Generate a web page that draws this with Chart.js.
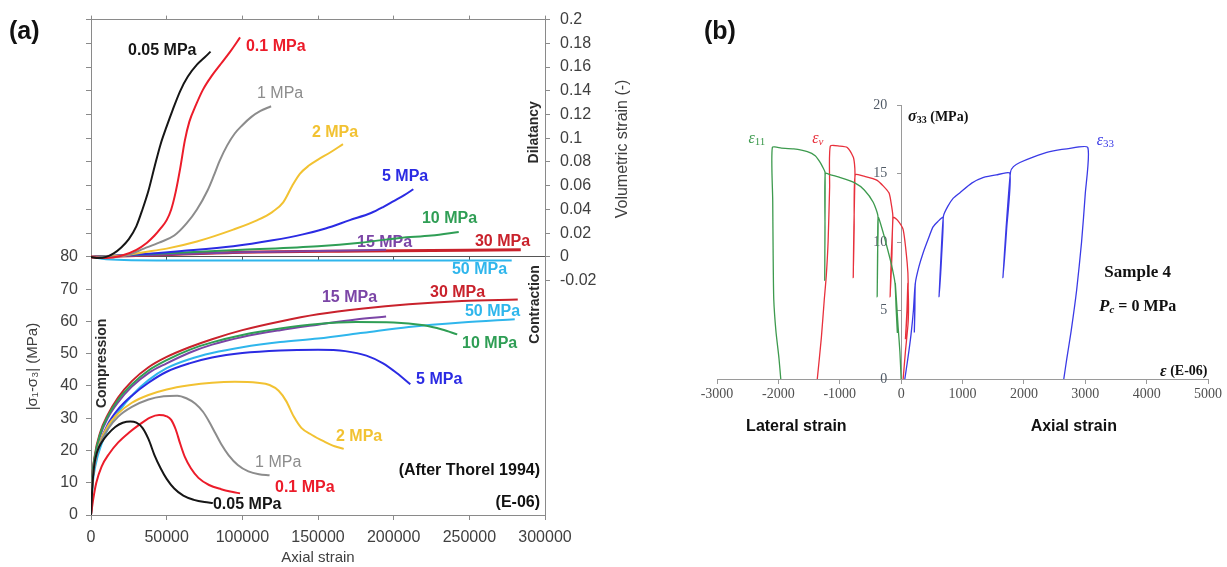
<!DOCTYPE html>
<html>
<head>
<meta charset="utf-8">
<title>Triaxial tests - Thorel 1994 / Sample 4</title>
<script src="https://cdn.jsdelivr.net/npm/chart.js@4.4.1/dist/chart.umd.min.js"></script>
<style>
  html, body { margin: 0; padding: 0; background: #fff; }
  #page { position: relative; width: 1227px; height: 567px; overflow: hidden; background: #fff; }
  #chartA { position: absolute; left: 0; top: 0; }
  #chartB { position: absolute; left: 690px; top: 0; }
</style>
</head>
<body>
<div id="page">
  <canvas id="chartA" width="690" height="567"></canvas>
  <canvas id="chartB" width="537" height="567"></canvas>
</div>
<script>
const SANS = '"Liberation Sans", Arial, sans-serif';
const SERIF = '"Liberation Serif", "Times New Roman", serif';

// =================================================================
// PANEL (a) DATA - axial strain in E-06
// =================================================================
const axialTicks = [0, 50000, 100000, 150000, 200000, 250000, 300000];
const stressTicks = [0, 10, 20, 30, 40, 50, 60, 70, 80];
const volTicks = [-0.02, 0, 0.02, 0.04, 0.06, 0.08, 0.1, 0.12, 0.14, 0.16, 0.18, 0.2];
const VOL_MIN = -0.2175, VOL_MAX = 0.2;
// left axis is stretched so that 80 MPa sits on zero volumetric strain
const STRESS_MAX = 80 * (VOL_MAX - VOL_MIN) / (0 - VOL_MIN);

const confining = ['0.05 MPa', '0.1 MPa', '1 MPa', '2 MPa', '5 MPa', '10 MPa', '15 MPa', '30 MPa', '50 MPa'];
const confColors = ['#161616', '#ec1c2a', '#8c8c8c', '#f2c232', '#2b2be3', '#2f9e55', '#7b45a6', '#c9222c', '#2fb6ec'];

// deviatoric stress |s1-s3| (MPa)
const dev005 = [[0,0],[800,8],[2000,15],[4000,19.5],[7000,22.5],[11000,25],[16000,27.3],[21000,28.6],[26000,29],[30000,28.6],[34000,27],[38000,23.5],[42000,18.5],[46000,14.5],[50000,11.2],[55000,8.2],[61000,6],[68000,4.7],[75000,4],[80500,3.7]];
const dev01 = [[0,0],[1500,5],[3500,10],[7000,15],[12000,19],[18000,22.5],[25000,25.5],[32000,28],[39000,30.2],[45000,31],[50000,30.6],[53000,29.5],[56000,26.5],[59000,22],[62000,18],[66000,14.5],[71000,11.5],[78000,9.3],[86000,8],[93000,7.2],[98500,6.7]];
const dev1 = [[0,0],[800,9],[2500,16],[6000,22],[11000,26.5],[18000,30.5],[27000,33.5],[38000,35.8],[48000,36.8],[57000,37],[63000,36.2],[69000,34.5],[74000,32],[78000,29],[82000,25.5],[86000,22],[91000,18.5],[97000,15.5],[104000,13.5],[111000,12.6],[118000,12.3]];
const dev2 = [[0,0],[800,9],[2500,16],[6000,22.5],[11000,27.5],[18000,31.5],[27000,34.8],[38000,37.2],[50000,38.9],[65000,40.2],[80000,41],[95000,41.3],[110000,41],[118000,40.3],[124000,38.5],[129000,35.3],[134000,30.5],[139000,27],[146000,24.8],[154000,22.8],[161000,21.3],[167000,20.5]];
const dev5 = [[0,0],[800,9],[2500,16],[6000,22.5],[11000,28],[18000,32.8],[27000,37],[38000,41],[50000,44.4],[65000,47],[80000,48.8],[100000,50.2],[125000,51],[150000,51.2],[168000,50.8],[182000,49.4],[193000,47],[202000,44],[211000,40.5]];
const dev10 = [[0,0],[800,11],[2500,18],[6000,25],[11000,30.5],[18000,35.8],[27000,40.5],[38000,44.8],[50000,48],[65000,51.2],[80000,53.5],[100000,55.8],[125000,57.8],[150000,59.2],[175000,59.8],[200000,59.7],[220000,58.8],[232000,57.5],[242000,56]];
const dev15 = [[0,0],[800,10.5],[2500,17.5],[6000,24.5],[11000,30],[18000,35],[27000,39.8],[38000,44],[50000,47],[65000,50.3],[80000,52.8],[100000,55.2],[125000,57.3],[150000,59],[175000,60.6],[195000,61.5]];
const dev30 = [[0,0],[800,11],[2500,18.5],[6000,25.5],[11000,31],[18000,36.5],[27000,41.5],[38000,45.8],[50000,49],[65000,52],[80000,54.5],[100000,57.3],[125000,60],[150000,62.2],[180000,64],[210000,65.3],[245000,66.3],[282000,66.8]];
const dev50 = [[0,0],[1000,9],[3000,15.5],[7000,22],[12000,27.5],[19000,32.5],[28000,37.5],[38000,41.8],[50000,45.5],[65000,48.3],[80000,50.2],[100000,52],[125000,53.6],[150000,54.7],[180000,56.5],[210000,58.3],[245000,59.7],[280000,60.7]];

// volumetric strain (-)
const vol005 = [[0,0],[5000,-0.001],[10000,0],[15000,0.003],[20000,0.008],[25000,0.015],[30000,0.026],[34000,0.04],[38000,0.056],[42000,0.076],[46000,0.095],[50000,0.11],[54000,0.124],[59000,0.14],[64000,0.152],[70000,0.162],[75000,0.168],[79000,0.173]];
const vol01 = [[0,0],[10000,-0.001],[20000,0.001],[30000,0.006],[37000,0.012],[42000,0.018],[46000,0.024],[50000,0.031],[53000,0.04],[56000,0.055],[59000,0.075],[62000,0.098],[65000,0.114],[69000,0.127],[74000,0.141],[80000,0.153],[86000,0.163],[92000,0.173],[98500,0.185]];
const vol1 = [[0,0],[15000,0],[25000,0.002],[35000,0.007],[45000,0.012],[55000,0.018],[63000,0.028],[70000,0.04],[77000,0.056],[81000,0.068],[85000,0.081],[90000,0.094],[95000,0.104],[100000,0.111],[106000,0.118],[112000,0.123],[119000,0.127]];
const vol2 = [[0,0],[20000,0.001],[35000,0.004],[50000,0.007],[70000,0.013],[94000,0.023],[110000,0.031],[120000,0.038],[127000,0.046],[133000,0.06],[138000,0.07],[144000,0.077],[150000,0.082],[158000,0.088],[166500,0.095]];
const vol5 = [[0,0],[30000,0.002],[60000,0.005],[94000,0.009],[120000,0.014],[140000,0.019],[155000,0.024],[171000,0.031],[185000,0.037],[193000,0.042],[200000,0.047],[207000,0.052],[213000,0.057]];
const vol10 = [[0,0],[50000,0.003],[100000,0.006],[150000,0.009],[178000,0.012],[204000,0.016],[225000,0.018],[243000,0.021]];
const vol15 = [[0,0],[50000,0.002],[100000,0.004],[150000,0.005],[195000,0.006]];
const vol30 = [[0,0],[50000,0.002],[100000,0.004],[180000,0.005],[284000,0.006]];
const vol50 = [[0,0],[10000,-0.002],[50000,-0.003],[150000,-0.003],[278000,-0.003]];

const devCurves = [dev005, dev01, dev1, dev2, dev5, dev10, dev15, dev30, dev50];
const volCurves = [vol005, vol01, vol1, vol2, vol5, vol10, vol15, vol30, vol50];

// curve labels: x in E-06, y on the named axis
const labelsA = [
  { text: '0.05 MPa', x: 24450, y: 0.174, axis: 'y2', c: 0 },
  { text: '0.1 MPa', x: 102400, y: 0.177, axis: 'y2', c: 1 },
  { text: '1 MPa', x: 109700, y: 0.138, axis: 'y2', c: 2, normal: true },
  { text: '2 MPa', x: 146000, y: 0.105, axis: 'y2', c: 3 },
  { text: '5 MPa', x: 192300, y: 0.0675, axis: 'y2', c: 4 },
  { text: '10 MPa', x: 218700, y: 0.0325, axis: 'y2', c: 5 },
  { text: '15 MPa', x: 175800, y: 0.0117, axis: 'y2', c: 6 },
  { text: '30 MPa', x: 253700, y: 0.0133, axis: 'y2', c: 7 },
  { text: '50 MPa', x: 238500, y: -0.0108, axis: 'y2', c: 8 },
  { text: '15 MPa', x: 152600, y: 67.4, axis: 'y', c: 6 },
  { text: '30 MPa', x: 224000, y: 69, axis: 'y', c: 7 },
  { text: '50 MPa', x: 247100, y: 63.2, axis: 'y', c: 8 },
  { text: '10 MPa', x: 245200, y: 53, axis: 'y', c: 5 },
  { text: '5 MPa', x: 214800, y: 42, axis: 'y', c: 4 },
  { text: '2 MPa', x: 161900, y: 24.2, axis: 'y', c: 3 },
  { text: '1 MPa', x: 108400, y: 16.2, axis: 'y', c: 2, normal: true },
  { text: '0.1 MPa', x: 121600, y: 8.6, axis: 'y', c: 1 },
  { text: '0.05 MPa', x: 80600, y: 3.1, axis: 'y', c: 0 },
  { text: '(After Thorel 1994)', x: 296700, y: 13.8, axis: 'y', color: '#111', align: 'right' },
  { text: '(E-06)', x: 296700, y: 4, axis: 'y', color: '#111', align: 'right' }
];

// =================================================================
// PANEL (b) DATA - Sample 4, strain in E-06, stress in MPa
// =================================================================
const strainTicksB = [-3000, -2000, -1000, 0, 1000, 2000, 3000, 4000, 5000];
const stressTicksB = [0, 5, 10, 15, 20];

const eps11 = [[0,0],[-20,2],[-49,3.8],[-70,5.3],[-95,7.0],[-78,5],[-62,3.4],[-82,5.2],[-100,7.0],
  [-160,8.4],[-228,9.6],[-300,10.8],[-374,11.8],[-382,9],[-390,6.0],[-384,9],[-378,11.9],
  [-455,12.9],[-600,13.8],[-748,14.3],[-992,14.7],[-1150,14.9],[-1236,15.0],[-1240,11],[-1245,7.2],[-1241,11],[-1240,15.1],
  [-1270,15.4],[-1317,15.8],[-1400,16.3],[-1528,16.6],[-1750,16.8],[-1950,16.85],[-2098,16.9],
  [-2092,13],[-2085,9],[-2075,5.8],[-2040,3.5],[-1990,1.5],[-1961,0]];
const epsV = [[33,0],[70,2],[114,4.1],[120,5.5],[110,7.0],[95,5],[70,2.9],[100,5],[115,7.0],
  [98,8.5],[33,10.9],[-60,11.6],[-130,11.8],[-150,9],[-179,6.0],[-160,9],[-135,11.9],
  [-165,12.9],[-200,13.6],[-390,14.5],[-600,14.8],[-748,14.9],[-765,11],[-780,7.4],[-770,11],[-752,15.0],
  [-760,15.7],[-780,16.2],[-878,16.9],[-1000,17.0],[-1154,17.0],
  [-1165,14],[-1190,10],[-1220,7.5],[-1252,5.8],[-1300,3],[-1366,0]];
const eps33 = [[60,0],[110,1.5],[160,3.2],[200,5],[228,7.0],[222,5],[215,3.4],[224,5],[232,7.0],
  [290,8.2],[358,9.2],[440,10.2],[520,11.1],[600,11.5],[683,11.8],[660,9],[618,6.0],[650,9],[690,11.9],
  [760,12.6],[850,13.2],[959,13.6],[1150,14.3],[1333,14.7],[1550,14.9],[1772,15.0],[1720,11],[1659,7.4],[1710,11],[1782,15.1],
  [1830,15.5],[1935,15.8],[2150,16.2],[2423,16.6],[2700,16.8],[3041,16.9],
  [3000,13.5],[2940,10],[2860,6.5],[2770,3.5],[2700,1.5],[2650,0]];

// =================================================================
// HELPERS
// =================================================================
function fixedTicks(list) {
  return s => { s.ticks = list.map(v => ({ value: v })); };
}

function volToStress(v) {
  return (v - VOL_MIN) / (VOL_MAX - VOL_MIN) * STRESS_MAX;
}

// draws a run of text pieces (for subscripts / italics)
function drawRich(ctx, parts, x, y, align) {
  let w = 0;
  parts.forEach(p => { ctx.font = p.font; w += ctx.measureText(p.t).width; });
  let cx = align === 'center' ? x - w / 2 : align === 'right' ? x - w : x;
  ctx.textAlign = 'left';
  parts.forEach(p => {
    ctx.font = p.font;
    ctx.fillText(p.t, cx, y + (p.dy || 0));
    cx += ctx.measureText(p.t).width;
  });
}

function drawRotated(ctx, text, x, y, font, color) {
  ctx.save();
  ctx.translate(x, y);
  ctx.rotate(-Math.PI / 2);
  ctx.font = font;
  ctx.fillStyle = color;
  ctx.textAlign = 'center';
  ctx.textBaseline = 'middle';
  ctx.fillText(text, 0, 0);
  ctx.restore();
}

const panelATextPlugin = {
  id: 'panelAText',
  beforeDatasetsDraw(chart) {
    const ctx = chart.ctx, s = chart.scales;
    ctx.save();
    ctx.textBaseline = 'middle';
    labelsA.forEach(l => {
      ctx.font = (l.normal ? '' : 'bold ') + '16px ' + SANS;
      ctx.fillStyle = l.color || confColors[l.c];
      ctx.textAlign = l.align || 'left';
      ctx.fillText(l.text, s.x.getPixelForValue(l.x), s[l.axis].getPixelForValue(l.y));
    });
    ctx.restore();
  },
  afterDraw(chart) {
    const ctx = chart.ctx, s = chart.scales, a = chart.chartArea;
    ctx.save();
    ctx.textBaseline = 'middle';
    ctx.fillStyle = '#111';
    ctx.font = 'bold 25px ' + SANS;
    ctx.textAlign = 'left';
    ctx.fillText('(a)', 9, 32);
    drawRotated(ctx, '|σ₁-σ₃| (MPa)', a.left - 58, s.y.getPixelForValue(46), '15px ' + SANS, '#404040');
    drawRotated(ctx, 'Compression', a.left + 11, s.y.getPixelForValue(47), 'bold 14px ' + SANS, '#2a2a2a');
    drawRotated(ctx, 'Dilatancy', a.right - 11, s.y2.getPixelForValue(0.105), 'bold 14px ' + SANS, '#2a2a2a');
    drawRotated(ctx, 'Contraction', a.right - 10, s.y2.getPixelForValue(-0.04), 'bold 14px ' + SANS, '#2a2a2a');
    drawRotated(ctx, 'Volumetric strain (-)', a.right + 78, s.y2.getPixelForValue(0.091), '16px ' + SANS, '#404040');
    ctx.restore();
  }
};

const panelBTextPlugin = {
  id: 'panelBText',
  afterDraw(chart) {
    const ctx = chart.ctx, s = chart.scales;
    const X = v => s.x.getPixelForValue(v), Y = v => s.y.getPixelForValue(v);
    ctx.save();
    ctx.textBaseline = 'middle';
    ctx.fillStyle = '#111';
    ctx.font = 'bold 25px ' + SANS;
    ctx.textAlign = 'left';
    ctx.fillText('(b)', 14, 32);

    ctx.fillStyle = '#3d9a4e';
    drawRich(ctx, [{ t: 'ε', font: 'italic 16px ' + SERIF }, { t: '11', font: '11px ' + SERIF, dy: 3 }], X(-2488), Y(17.5), 'left');
    ctx.fillStyle = '#e8303c';
    drawRich(ctx, [{ t: 'ε', font: 'italic 16px ' + SERIF }, { t: 'v', font: 'italic 11px ' + SERIF, dy: 3 }], X(-1447), Y(17.5), 'left');
    ctx.fillStyle = '#3a3ae6';
    drawRich(ctx, [{ t: 'ε', font: 'italic 16px ' + SERIF }, { t: '33', font: '11px ' + SERIF, dy: 3 }], X(3187), Y(17.4), 'left');

    ctx.fillStyle = '#111';
    drawRich(ctx, [{ t: 'σ', font: 'italic bold 16px ' + SERIF }, { t: '33', font: 'bold 10px ' + SERIF, dy: 3 }, { t: ' (MPa)', font: 'bold 14px ' + SERIF }], X(114), Y(19.1), 'left');
    drawRich(ctx, [{ t: 'ε', font: 'italic bold 16px ' + SERIF }, { t: ' (E-06)', font: 'bold 14px ' + SERIF }], X(4992), Y(0.55), 'right');
    drawRich(ctx, [{ t: 'Sample 4', font: 'bold 17px ' + SERIF }], X(3854), Y(7.8), 'center');
    drawRich(ctx, [{ t: 'P', font: 'italic bold 17px ' + SERIF }, { t: 'c', font: 'italic bold 11px ' + SERIF, dy: 4 }, { t: ' = 0 MPa', font: 'bold 16px ' + SERIF }], X(3854), Y(5.3), 'center');
    drawRich(ctx, [{ t: 'Lateral strain', font: 'bold 16px ' + SANS }], X(-1707), Y(-3.5), 'center');
    drawRich(ctx, [{ t: 'Axial strain', font: 'bold 16px ' + SANS }], X(2813), Y(-3.5), 'center');
    ctx.restore();
  }
};

// =================================================================
// PANEL (a) CHART
// =================================================================
Chart.defaults.font.family = SANS;

const datasetsA = [];
devCurves.forEach((d, i) => datasetsA.push({
  label: 'dev ' + confining[i], data: d, yAxisID: 'y', xAxisID: 'x',
  borderColor: confColors[i], borderWidth: 2, pointRadius: 0, cubicInterpolationMode: 'monotone'
}));
volCurves.forEach((d, i) => datasetsA.push({
  label: 'vol ' + confining[i], data: d, yAxisID: 'y2', xAxisID: 'x',
  borderColor: confColors[i], borderWidth: i === 7 ? 3 : 2, pointRadius: 0, cubicInterpolationMode: 'monotone'
}));

const frame = '#8a8a8a';
const tickText = '#404040';

new Chart(document.getElementById('chartA'), {
  type: 'line',
  data: { datasets: datasetsA },
  options: {
    responsive: false,
    animation: false,
    events: [],
    layout: { padding: 0 },
    plugins: { legend: { display: false }, tooltip: { enabled: false } },
    scales: {
      x: {
        type: 'linear', position: 'bottom', min: 0, max: 300000,
        afterBuildTicks: fixedTicks(axialTicks),
        afterFit: s => { s.height = 52; },
        ticks: { callback: v => String(v), color: tickText, font: { size: 16 }, padding: 8, autoSkip: false, maxRotation: 0 },
        grid: { drawOnChartArea: false, tickLength: 5, color: frame },
        border: { color: frame },
        title: { display: true, text: 'Axial strain', color: tickText, font: { size: 15 }, padding: { top: 0, bottom: 0 } }
      },
      xTop: {
        type: 'linear', axis: 'x', position: 'top', min: 0, max: 300000,
        afterBuildTicks: fixedTicks(axialTicks),
        afterFit: s => { s.height = 14; },
        ticks: { display: false },
        grid: { drawOnChartArea: false, tickLength: 4, color: frame },
        border: { color: frame }
      },
      xMid: {
        type: 'linear', axis: 'x', position: { y2: 0 }, min: 0, max: 300000,
        afterBuildTicks: fixedTicks(axialTicks),
        ticks: { display: false },
        grid: { drawOnChartArea: false, tickLength: 4, color: '#555' },
        border: { color: '#555' }
      },
      y: {
        type: 'linear', position: 'left', min: 0, max: STRESS_MAX,
        afterBuildTicks: s => {
          s.ticks = stressTicks.map(v => ({ value: v }))
            .concat(volTicks.filter(v => v > 0).map(v => ({ value: volToStress(v) })));
        },
        afterFit: s => { s.width = 91; },
        ticks: { callback: v => (v <= 80.001 ? String(Math.round(v)) : ''), color: tickText, font: { size: 16 }, padding: 8, autoSkip: false },
        grid: { drawOnChartArea: false, tickLength: 5, color: frame },
        border: { color: frame }
      },
      y2: {
        type: 'linear', position: 'right', min: VOL_MIN, max: VOL_MAX,
        afterBuildTicks: fixedTicks(volTicks),
        afterFit: s => { s.width = 145; },
        ticks: { callback: v => String(+v.toFixed(2)), color: tickText, font: { size: 16 }, padding: 10, autoSkip: false },
        grid: { drawOnChartArea: false, tickLength: 5, color: frame },
        border: { color: frame }
      }
    }
  },
  plugins: [panelATextPlugin]
});

// =================================================================
// PANEL (b) CHART
// =================================================================
const axisB = '#9a9a9a';

new Chart(document.getElementById('chartB'), {
  type: 'line',
  data: {
    datasets: [
      { label: 'ε11', data: eps11, borderColor: '#3d9a4e', borderWidth: 1.3, pointRadius: 0, tension: 0.2 },
      { label: 'εv', data: epsV, borderColor: '#e8303c', borderWidth: 1.3, pointRadius: 0, tension: 0.2 },
      { label: 'ε33', data: eps33, borderColor: '#3a3ae6', borderWidth: 1.3, pointRadius: 0, tension: 0.2 }
    ]
  },
  options: {
    responsive: false,
    animation: false,
    events: [],
    layout: { padding: { left: 27, right: 19, top: 105, bottom: 188 } },
    plugins: { legend: { display: false }, tooltip: { enabled: false } },
    scales: {
      x: {
        type: 'linear', position: { y: 0 }, min: -3000, max: 5000,
        afterBuildTicks: fixedTicks(strainTicksB),
        ticks: { callback: v => String(v), color: '#505050', font: { family: SERIF, size: 14 }, padding: 3, autoSkip: false, maxRotation: 0 },
        grid: { drawOnChartArea: false, tickLength: 4, color: axisB },
        border: { color: axisB }
      },
      y: {
        type: 'linear', position: { x: 0 }, min: 0, max: 20,
        afterBuildTicks: fixedTicks(stressTicksB),
        // value-positioned axes put labels right on the line, so pad with an em space
        ticks: { callback: v => String(v) + '\u2003', color: '#505a66', font: { family: SERIF, size: 14 }, autoSkip: false },
        grid: { drawOnChartArea: false, tickLength: 4, color: axisB },
        border: { color: axisB }
      }
    }
  },
  plugins: [panelBTextPlugin]
});
</script>
</body>
</html>
